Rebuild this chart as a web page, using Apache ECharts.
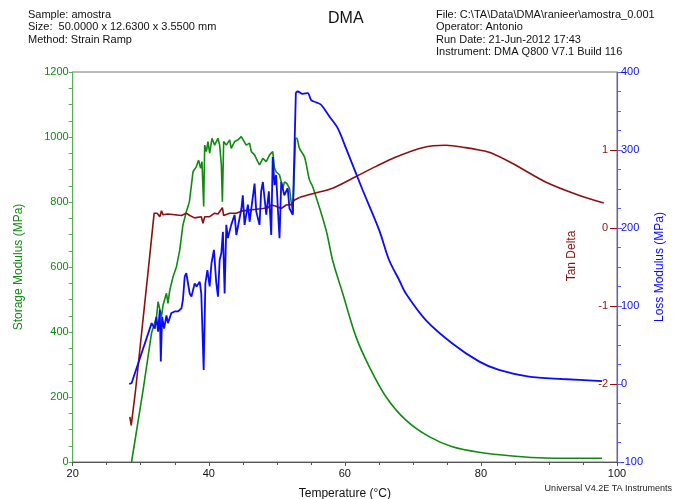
<!DOCTYPE html>
<html>
<head>
<meta charset="utf-8">
<title>DMA</title>
<script src="https://cdn.jsdelivr.net/npm/echarts@6/dist/echarts.min.js"></script>
<style>
  html, body { margin: 0; padding: 0; background: #fff; }
  #chart { width: 675px; height: 499px; }
</style>
</head>
<body>
<div id="chart"></div>
<script>
// storage modulus (MPa) vs temperature (°C)
var storageTemp = [28.65, 30.35, 31.58, 32.32, 32.55, 32.8, 33.05, 33.28, 33.78, 34.0, 34.27, 34.75, 35.25, 35.73, 36.2, 36.7, 37.15, 37.45, 37.68, 38.18, 38.5, 38.8, 39.0, 39.25, 39.4, 39.65, 39.88, 40.13, 40.47, 40.86, 41.35, 41.6, 41.85, 42.0, 42.19, 42.58, 43.07, 43.3, 43.8, 44.28, 44.78, 45.0, 45.5, 46.0, 46.25, 46.73, 47.2, 47.46, 47.95, 48.45, 48.93, 49.4, 49.66, 49.9, 50.15, 50.4, 50.88, 51.13, 51.47, 51.86, 52.1, 52.35, 52.74, 52.93, 53.33, 54.06, 54.8, 55.28, 57.24, 58.2, 59.68, 61.64, 63.6, 66.04, 68.97, 72.39, 75.8, 79.72, 84.6, 89.5, 97.8];
var storage = [0, 222, 396, 447, 493, 498, 447, 483, 519, 488, 529, 570, 601, 652, 729, 770, 801, 852, 893, 909, 929, 904, 924, 786, 975, 955, 986, 950, 996, 975, 996, 975, 914, 801, 986, 975, 991, 965, 986, 991, 1001, 1006, 975, 981, 955, 945, 924, 914, 934, 924, 945, 955, 904, 893, 898, 883, 842, 862, 857, 842, 801, 765, 996, 996, 965, 939, 868, 847, 714, 621, 519, 385, 293, 201, 129, 78, 47, 30, 18.5, 12.3, 11.4];

// tan delta vs temperature (°C)
var tanTemp = [28.4, 28.6, 29.24, 31.33, 31.97, 32.17, 32.4, 32.8, 33.05, 33.28, 34.0, 35.0, 35.98, 36.7, 37.2, 37.93, 38.9, 39.15, 39.4, 40.13, 40.86, 41.35, 42.0, 42.19, 43.07, 44.05, 45.0, 46.0, 46.98, 47.95, 48.7, 49.18, 49.9, 50.65, 51.38, 52.1, 52.6, 53.33, 54.06, 55.28, 58.2, 61.64, 64.6, 67.5, 71.4, 74.84, 77.77, 79.72, 81.44, 84.6, 89.5, 94.38, 98.05];
var tanDelta = [-2.42, -2.53, -2.08, -0.35, 0.19, 0.17, 0.19, 0.145, 0.22, 0.17, 0.18, 0.17, 0.16, 0.19, 0.16, 0.13, 0.145, 0.06, 0.145, 0.145, 0.19, 0.18, 0.26, 0.16, 0.19, 0.19, 0.22, 0.23, 0.24, 0.25, 0.26, 0.295, 0.28, 0.25, 0.295, 0.30, 0.36, 0.39, 0.41, 0.44, 0.51, 0.66, 0.79, 0.91, 1.03, 1.06, 1.03, 1.0, 0.965, 0.83, 0.59, 0.42, 0.32];

// loss modulus (MPa) vs temperature (°C)
var lossTemp = [28.3, 28.65, 31.6, 32.07, 32.3, 32.55, 32.8, 32.95, 33.14, 33.43, 33.78, 34.0, 34.5, 35.0, 35.5, 35.98, 36.2, 36.47, 36.7, 37.2, 37.45, 37.93, 38.2, 38.67, 38.9, 39.25, 39.5, 39.8, 40.13, 40.4, 40.76, 41.1, 41.35, 41.6, 41.85, 42.08, 42.33, 42.58, 42.8, 43.3, 43.8, 44.05, 44.8, 45.0, 45.26, 45.75, 46.0, 46.73, 46.98, 47.46, 47.7, 47.95, 48.45, 48.83, 49.18, 49.4, 49.66, 49.9, 50.15, 50.4, 50.65, 51.1, 51.6, 51.86, 52.35, 52.8, 53.08, 53.8, 54.55, 55.05, 55.8, 56.5, 57.73, 58.95, 60.18, 62.6, 65.06, 66.5, 68.0, 68.97, 71.9, 75.8, 79.7, 82.65, 87.05, 91.9, 97.8];
var loss = [0, 1, 78, 71, 86, 67, 95, 29, 86, 71, 88, 78, 91, 93, 93, 97, 108, 138, 142, 116, 112, 129, 125, 131, 116, 18, 129, 146, 125, 155, 172, 130, 112, 159, 168, 195, 116, 204, 187, 204, 217, 191, 225, 242, 204, 230, 208, 257, 221, 204, 247, 259, 217, 247, 191, 291, 255, 268, 225, 187, 259, 242, 251, 225, 217, 374, 375, 372, 373, 364, 361, 358, 343, 328, 302, 249, 197, 159, 133, 116, 82, 52, 29, 18, 9.4, 6.4, 3.8];

var xTicks = [20, 40, 60, 80, 100];
var tanTicks = [-2, -1, 0, 1];
// above this temperature the traces are smooth (no measurement noise)
var smoothFrom = 52.7;

function noisy(xs, ys) {
    var out = [];
    xs.forEach(function (x, i) {
        if (x <= smoothFrom || (i > 0 && xs[i - 1] <= smoothFrom)) out.push([x, ys[i]]);
    });
    return out;
}
function tail(xs, ys) {
    var out = [];
    xs.forEach(function (x, i) { if (x > smoothFrom) out.push([x, ys[i]]); });
    return out;
}

var GREEN = '#108a10', RED = '#8b1010', BLUE = '#0a0aff';
var font = 'Liberation Sans, Arial, sans-serif';

function lineSeries(name, axis, color, width, data, smooth) {
    return {
        name: name, type: 'line', yAxisIndex: axis, showSymbol: false,
        smooth: smooth ? 0.3 : false,
        lineStyle: { color: color, width: width }, data: data
    };
}

var myChart = echarts.init(document.getElementById('chart'));
var option = {
    animation: false,
    backgroundColor: '#fff',
    textStyle: { fontFamily: font },
    grid: { left: 72.7, right: 58, top: 72, bottom: 37, outerBoundsMode: 'none', containLabel: false,
        show: true, borderColor: '#777', borderWidth: 1 },
    graphic: [
        { type: 'text', left: 28, top: 9, style: { text: 'Sample: amostra\nSize:  50.0000 x 12.6300 x 3.5500 mm\nMethod: Strain Ramp', font: '11px ' + font, fill: '#111', lineHeight: 12.3 } },
        { type: 'text', left: 328, top: 11, style: { text: 'DMA', font: '16px ' + font, fill: '#111' } },
        { type: 'text', left: 436, top: 9, style: { text: 'File: C:\\TA\\Data\\DMA\\ranieer\\amostra_0.001\nOperator: Antonio\nRun Date: 21-Jun-2012 17:43\nInstrument: DMA Q800 V7.1 Build 116', font: '11px ' + font, fill: '#111', lineHeight: 12.3 } },
        { type: 'text', right: 3, top: 484, style: { text: 'Universal V4.2E TA Instruments', font: '9px ' + font, fill: '#222' } },
        { type: 'text', x: 572, y: 256, rotation: Math.PI / 2, style: { text: 'Tan Delta', font: '12px ' + font, fill: RED, align: 'center', verticalAlign: 'middle' } }
    ],
    xAxis: {
        type: 'value', min: 20, max: 100, interval: 20,
        name: 'Temperature (°C)', nameLocation: 'middle', nameGap: 26,
        nameTextStyle: { fontSize: 12, color: '#111' },
        axisLine: { lineStyle: { color: '#555', width: 1 } },
        axisTick: { length: 4, lineStyle: { color: '#555' } },
        minorTick: { show: true, splitNumber: 4, length: 3, lineStyle: { color: '#555' } },
        axisLabel: { color: '#111', fontSize: 11, margin: 6, customValues: xTicks },
        splitLine: { show: false }
    },
    yAxis: [{
        type: 'value', position: 'left', min: 0, max: 1200, interval: 200,
        name: 'Storage Modulus (MPa)', nameLocation: 'middle', nameGap: 48, nameRotate: 90,
        nameTextStyle: { fontSize: 12, color: GREEN },
        axisLine: { show: true, lineStyle: { color: '#55b055', width: 1 } },
        axisTick: { length: 4, lineStyle: { color: '#55b055' } },
        minorTick: { show: true, splitNumber: 4, length: 4, lineStyle: { color: '#55b055' } },
        axisLabel: { color: GREEN, fontSize: 11, margin: 4, formatter: function (v) { return String(v); } },
        splitLine: { show: false }
    }, {
        type: 'value', position: 'right', min: -3, max: 2, interval: 1,
        axisLine: { show: false },
        axisTick: { inside: true, length: 7, customValues: tanTicks, lineStyle: { color: RED } },
        axisLabel: { inside: true, color: RED, fontSize: 11, margin: 9, customValues: tanTicks },
        splitLine: { show: false }
    }, {
        type: 'value', position: 'right', min: -100, max: 400, interval: 100,
        name: 'Loss Modulus (MPa)', nameLocation: 'middle', nameGap: 30, nameRotate: 90,
        nameTextStyle: { fontSize: 12, color: BLUE },
        axisLine: { show: true, lineStyle: { color: '#5a5aff', width: 1.2 } },
        axisTick: { length: 5, lineStyle: { color: '#5a5aff' } },
        minorTick: { show: true, splitNumber: 4, length: 4, lineStyle: { color: '#5a5aff' } },
        axisLabel: { color: BLUE, fontSize: 11, margin: 4 },
        splitLine: { show: false }
    }],
    series: [
        lineSeries('Storage Modulus', 0, GREEN, 1.6, noisy(storageTemp, storage), false),
        lineSeries('Storage Modulus', 0, GREEN, 1.6, tail(storageTemp, storage), true),
        lineSeries('Tan Delta', 1, RED, 1.6, noisy(tanTemp, tanDelta), false),
        lineSeries('Tan Delta', 1, RED, 1.6, tail(tanTemp, tanDelta), true),
        lineSeries('Loss Modulus', 2, BLUE, 1.8, noisy(lossTemp, loss), false),
        lineSeries('Loss Modulus', 2, BLUE, 1.8, tail(lossTemp, loss), true)
    ]
};
myChart.setOption(option);
</script>
</body>
</html>
